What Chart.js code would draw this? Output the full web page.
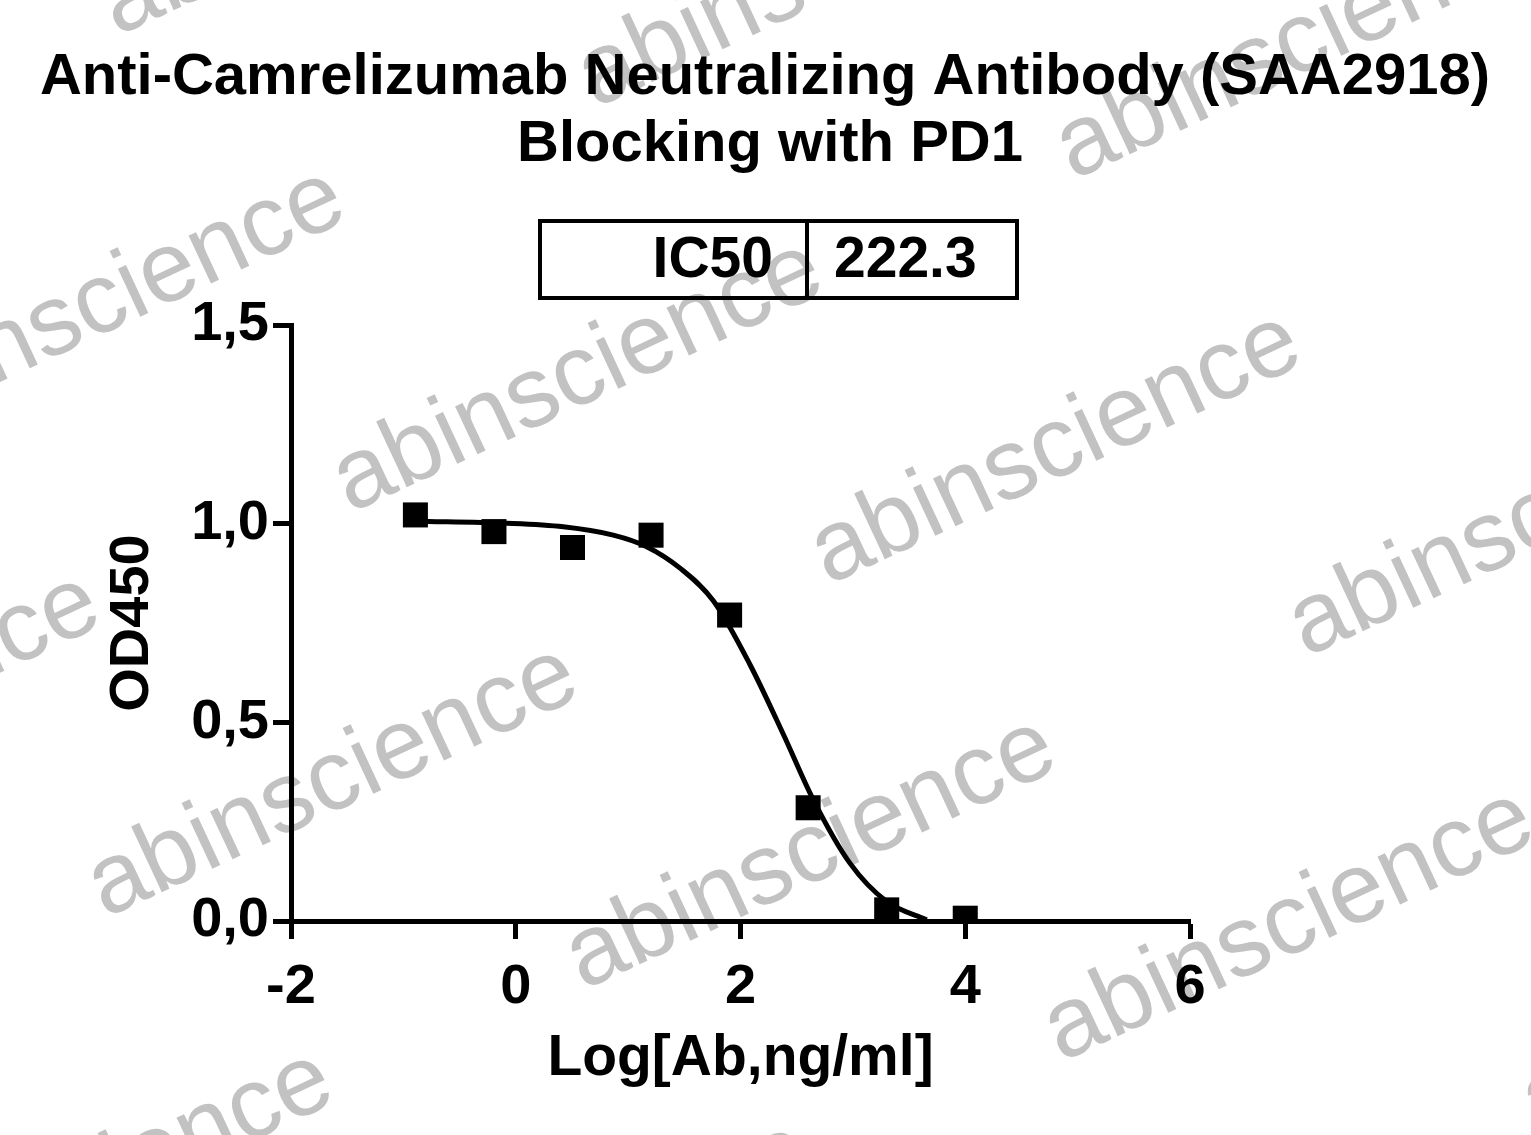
<!DOCTYPE html>
<html>
<head>
<meta charset="utf-8">
<title>Anti-Camrelizumab Neutralizing Antibody (SAA2918) Blocking with PD1</title>
<script src="https://cdn.jsdelivr.net/npm/chart.js@4.4.1/dist/chart.umd.min.js"></script>
<style>
  html, body { margin: 0; padding: 0; background: #fff; }
  #wrap { width: 1531px; height: 1135px; }
</style>
</head>
<body>
<div id="wrap"><canvas id="chart" width="1531" height="1135"></canvas></div>
<script>
// data
const titleLines = ["Anti-Camrelizumab Neutralizing Antibody (SAA2918)", "Blocking with PD1"];
const xTitle = "Log[Ab,ng/ml]";
const yTitle = "OD450";
const ic50Label = "IC50";
const ic50Value = "222.3";

const logConc = [-0.893, -0.194, 0.505, 1.204, 1.903, 2.602, 3.301, 4.000];
const od450 = [1.022, 0.980, 0.940, 0.971, 0.770, 0.285, 0.028, 0.007];

// fitted curve
const fitX = [-0.888, -0.081, 0.423, 0.868, 1.165, 1.462, 1.758, 2.085, 2.381, 2.648, 2.975, 3.301, 3.657];
const fitY = [1.006, 1.001, 0.992, 0.971, 0.942, 0.888, 0.806, 0.645, 0.470, 0.305, 0.145, 0.049, 0.003];

const xTicks = [-2, 0, 2, 4, 6];
const yTicks = [0, 0.5, 1.0, 1.5];
const yTickLabels = ["0,0", "0,5", "1,0", "1,5"];

const watermark = "abinscience";

const FONT = "'Liberation Sans', Arial, Helvetica, sans-serif";

// watermark tiles behind the chart
const watermarkPlugin = {
  id: "watermark",
  beforeDraw(chart) {
    const ctx = chart.ctx;
    ctx.save();
    ctx.fillStyle = "#c2c2c2";
    ctx.font = "100px " + FONT;
    ctx.textAlign = "center";
    ctx.textBaseline = "middle";
    for (let i = -3; i <= 3; i++) {
      for (let j = -3; j <= 3; j++) {
        const cx = 333 + i * 478 + j * 245;
        const cy = 782 + i * 72 - j * 405;
        if (cx < -400 || cx > 1950 || cy < -300 || cy > 1450) continue;
        ctx.save();
        ctx.translate(cx, cy);
        ctx.rotate(-25 * Math.PI / 180);
        ctx.fillText(watermark, 0, 0);
        ctx.restore();
      }
    }
    ctx.restore();
  }
};

// title and IC50 box
const headerPlugin = {
  id: "header",
  afterDraw(chart) {
    const ctx = chart.ctx;
    ctx.save();
    ctx.fillStyle = "#000";
    ctx.textBaseline = "middle";
    ctx.textAlign = "center";
    ctx.font = "bold 58px " + FONT;
    ctx.fillText(titleLines[0], 765, 78);
    ctx.fillText(titleLines[1], 770, 145);

    // IC50 table
    ctx.strokeStyle = "#000";
    ctx.lineWidth = 4;
    ctx.strokeRect(540, 221, 477, 77);
    ctx.beginPath();
    ctx.moveTo(807, 221);
    ctx.lineTo(807, 298);
    ctx.stroke();
    ctx.font = "bold 57px " + FONT;
    ctx.textAlign = "right";
    ctx.fillText(ic50Label, 773, 261);
    ctx.textAlign = "left";
    ctx.fillText(ic50Value, 834, 261);
    ctx.restore();
  }
};

const config = {
  type: "scatter",
  data: {
    datasets: [
      {
        label: "fit",
        data: fitX.map((x, i) => ({ x: x, y: fitY[i] })),
        showLine: true,
        borderColor: "#000",
        borderWidth: 5,
        pointRadius: 0,
        cubicInterpolationMode: "monotone",
        order: 2
      },
      {
        label: "data",
        data: logConc.map((x, i) => ({ x: x, y: od450[i] })),
        pointStyle: "rect",
        pointRadius: 17.7,
        backgroundColor: "#000",
        borderWidth: 0,
        order: 1
      }
    ]
  },
  options: {
    responsive: false,
    animation: false,
    devicePixelRatio: 1,
    layout: { padding: { top: 325, right: 341, bottom: 0, left: 0 } },
    plugins: {
      legend: { display: false },
      tooltip: { enabled: false }
    },
    scales: {
      x: {
        type: "linear",
        min: -2,
        max: 6,
        afterBuildTicks(scale) { scale.ticks = xTicks.map(v => ({ value: v })); },
        afterFit(scale) { scale.height = 214; },
        border: { color: "#000", width: 5 },
        grid: { drawOnChartArea: false, drawTicks: true, tickLength: 18, tickWidth: 5, color: "#000" },
        ticks: {
          color: "#000",
          padding: 15,
          maxRotation: 0,
          font: { family: FONT, size: 56, weight: "bold", lineHeight: 1.2 }
        },
        title: {
          display: true,
          text: xTitle,
          color: "#000",
          font: { family: FONT, size: 57, weight: "bold", lineHeight: 1.2 },
          padding: { top: 0, bottom: 42 }
        }
      },
      y: {
        type: "linear",
        min: 0,
        max: 1.5,
        afterBuildTicks(scale) { scale.ticks = yTicks.map(v => ({ value: v })); },
        afterFit(scale) { scale.width = 291; },
        border: { color: "#000", width: 5 },
        grid: { drawOnChartArea: false, drawTicks: true, tickLength: 18, tickWidth: 5, color: "#000" },
        ticks: {
          color: "#000",
          padding: 4,
          font: { family: FONT, size: 56, weight: "bold", lineHeight: 1.2 },
          callback: (v, i) => yTickLabels[i]
        },
        title: {
          display: true,
          text: yTitle,
          color: "#000",
          font: { family: FONT, size: 56, weight: "bold", lineHeight: 1.2 },
          padding: { top: 99, bottom: 0 }
        }
      }
    }
  },
  plugins: [watermarkPlugin, headerPlugin]
};

const myChart = new Chart(document.getElementById("chart"), config);
</script>
</body>
</html>
